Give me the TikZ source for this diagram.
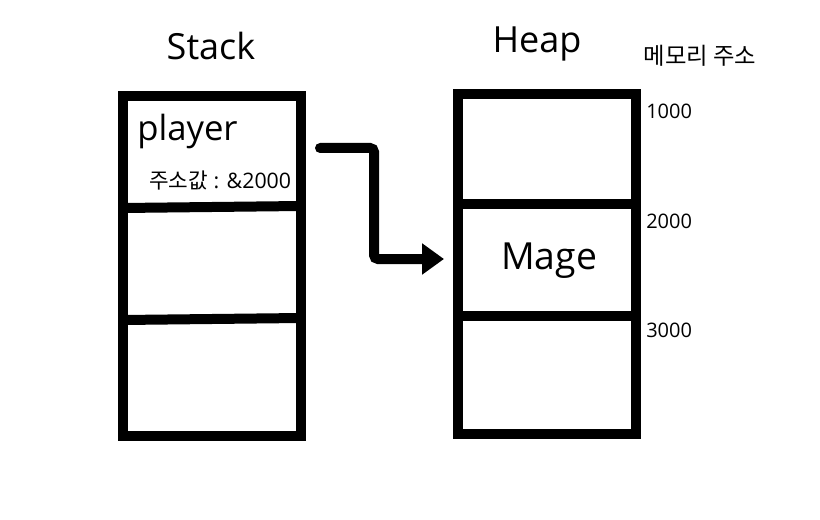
\documentclass[tikz,border=0pt]{standalone}
\usepackage{fontspec}
\setmainfont{Open Sans}
\newfontfamily\kor{Noto Sans CJK KR}
\usetikzlibrary{arrows.meta}
\begin{document}
\begin{tikzpicture}[x=0.75pt,y=-0.75pt,
  thick box/.style={draw=black,line width=7.5pt},
  lbl/.style={inner sep=0pt,anchor=center},
  addr/.style={inner sep=0pt,anchor=west,font=\fontsize{15pt}{17pt}\selectfont},
  ptr/.style={line width=7.5pt,line cap=round,rounded corners=3pt,-{Triangle[length=16.5pt,width=22.5pt]}}]
\useasboundingbox[fill=white] (0,0) rectangle (820,520);
% Stack
\draw[thick box] (123,96) rectangle (301,436);
\draw[thick box] (123,208) -- (301,206);
\draw[thick box] (123,320) -- (301,318);
% Heap
\draw[thick box] (458,94) rectangle (636,434);
\draw[thick box] (458,204) -- (636,204);
\draw[thick box] (458,316) -- (636,316);
% titles
\node[lbl,font=\fontsize{27pt}{30pt}\selectfont] (stack) at (211,46) {Stack};
\node[lbl,font=\fontsize{27pt}{30pt}\selectfont] (heap) at (537,44) {Heap};
\node[lbl,font=\kor\fontsize{17.5pt}{19pt}\selectfont] (memaddr) at (700,56) {메모리 주소};
% cell contents
\node[inner sep=0pt,anchor=west,font=\fontsize{26pt}{29pt}\selectfont] (player) at (137,131) {player};
\node[inner sep=0pt,anchor=west,font=\fontsize{16pt}{18pt}\selectfont] (val) at (149,181) {{\kor 주소값} : \&2000};
\node[lbl,font=\fontsize{28pt}{31pt}\selectfont] (mage) at (549,261) {Mage};
% addresses
\node[addr] (a1) at (646,111) {1000};
\node[addr] (a2) at (646,221) {2000};
\node[addr] (a3) at (646,330) {3000};
% arrow
\coordinate (from) at (320,148);
\coordinate (to) at (444,259);
\draw[ptr] (from) -- (374,148) -- (374,259) -- (to);
\end{tikzpicture}
\end{document}
